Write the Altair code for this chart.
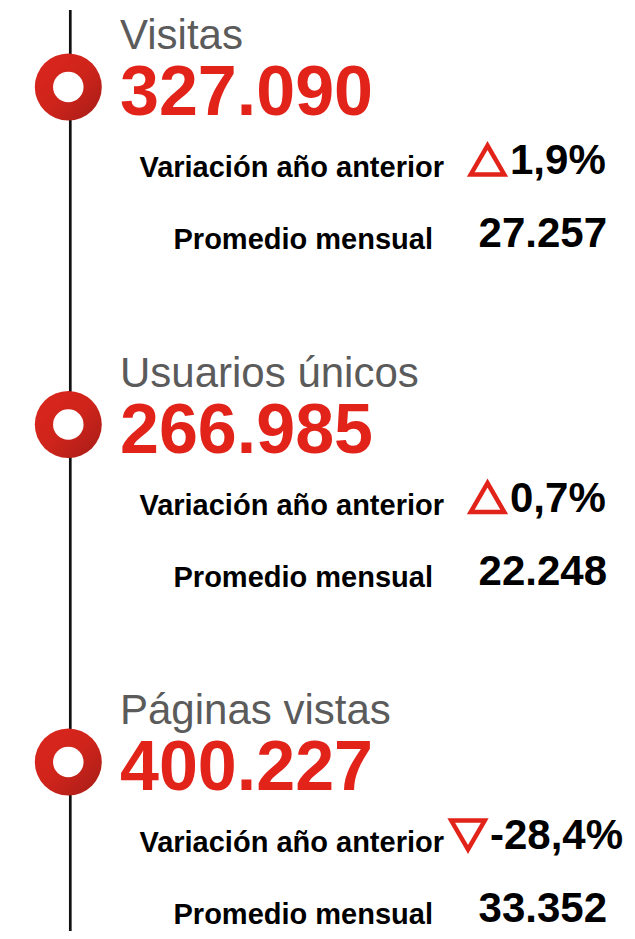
import altair as alt
import pandas as pd

# ---- data ----
titles = ["Visitas", "Usuarios únicos", "Páginas vistas"]
totals = [327090, 266985, 400227]
variations = [1.9, 0.7, -28.4]
monthly = [27257, 22248, 33352]

RED = "#e2231a"
FONT = "Liberation Sans"


def miles(v):
    return f"{v:,}".replace(",", ".")


def pct(v):
    return f"{v:.1f}".replace(".", ",") + "%"


df = pd.DataFrame({
    "idx": list(range(len(titles))),
    "title": titles,
    "total": [miles(v) for v in totals],
    "var": variations,
    "var_txt": [pct(v) for v in variations],
    "monthly": [miles(v) for v in monthly],
})

base = alt.Chart(df)
Y = alt.Y("idx:Q", scale=alt.Scale(domain=[0, 2], range=[78, 753]), axis=None)

line = base.mark_rule(color="#111111", strokeWidth=2.7).encode(
    x=alt.value(62.3), y=alt.value(1), y2=alt.value(935)
).transform_filter("datum.idx == 0")

grad = alt.LinearGradient(
    gradient="linear",
    stops=[alt.GradientStop(color="#dc261d", offset=0),
           alt.GradientStop(color="#cf241b", offset=0.5),
           alt.GradientStop(color="#a51d17", offset=1)],
    x1=0, y1=0, x2=1, y2=1,
)

outer = base.mark_circle(fill=grad, fillOpacity=1, opacity=1, size=4489).encode(
    x=alt.value(60.3), y=Y
)
inner = base.mark_circle(color="white", opacity=1, size=930).encode(
    x=alt.value(60.3), y=Y
)

title_t = base.mark_text(align="left", baseline="alphabetic", dy=-38, font=FONT,
                         fontSize=42, color="#5b5b5b").encode(
    x=alt.value(112), y=Y, text="title:N")

total_t = base.mark_text(align="left", baseline="alphabetic", dy=28, font=FONT,
                         fontSize=70, fontWeight="bold", color=RED).encode(
    x=alt.value(112), y=Y, text="total:N")

var_lbl = base.mark_text(align="right", baseline="alphabetic", dy=90, font=FONT,
                         fontSize=29, fontWeight="bold", color="black",
                         text="Variación año anterior").encode(
    x=alt.value(436), y=Y)

mon_lbl = base.mark_text(align="right", baseline="alphabetic", dy=162, font=FONT,
                         fontSize=29, fontWeight="bold", color="black",
                         text="Promedio mensual").encode(
    x=alt.value(425), y=Y)

var_pos = base.transform_filter("datum.var >= 0").mark_text(
    align="left", baseline="alphabetic", dy=87, font=FONT, fontSize=42,
    fontWeight="bold", color="black").encode(
    x=alt.value(502), y=Y, text="var_txt:N")

var_neg = base.transform_filter("datum.var < 0").mark_text(
    align="left", baseline="alphabetic", dy=87, font=FONT, fontSize=42,
    fontWeight="bold", color="black").encode(
    x=alt.value(482), y=Y, text="var_txt:N")

tri_up = base.transform_filter("datum.var >= 0").mark_point(
    shape="triangle-up", filled=False, color=RED, strokeWidth=4.5,
    strokeJoin="miter", opacity=1, size=1120).encode(
    x=alt.value(479.5), y=Y, yOffset=alt.value(73))

tri_down = base.transform_filter("datum.var < 0").mark_point(
    shape="triangle-down", filled=False, color=RED, strokeWidth=4.5,
    strokeJoin="miter", opacity=1, size=1120).encode(
    x=alt.value(460), y=Y, yOffset=alt.value(73))

mon_t = base.mark_text(align="right", baseline="alphabetic", dy=160, font=FONT,
                       fontSize=42, fontWeight="bold", color="black").encode(
    x=alt.value(599), y=Y, text="monthly:N")

chart = alt.layer(
    line, outer, inner, title_t, total_t, var_lbl, mon_lbl,
    var_pos, var_neg, tri_up, tri_down, mon_t
).properties(
    width=619, height=923, padding=0,
    autosize=alt.AutoSizeParams(type="fit", contains="padding"),
    background="white",
).configure_view(stroke=None)

chart.save("out.html", embed_options={"renderer": "svg", "actions": False})
